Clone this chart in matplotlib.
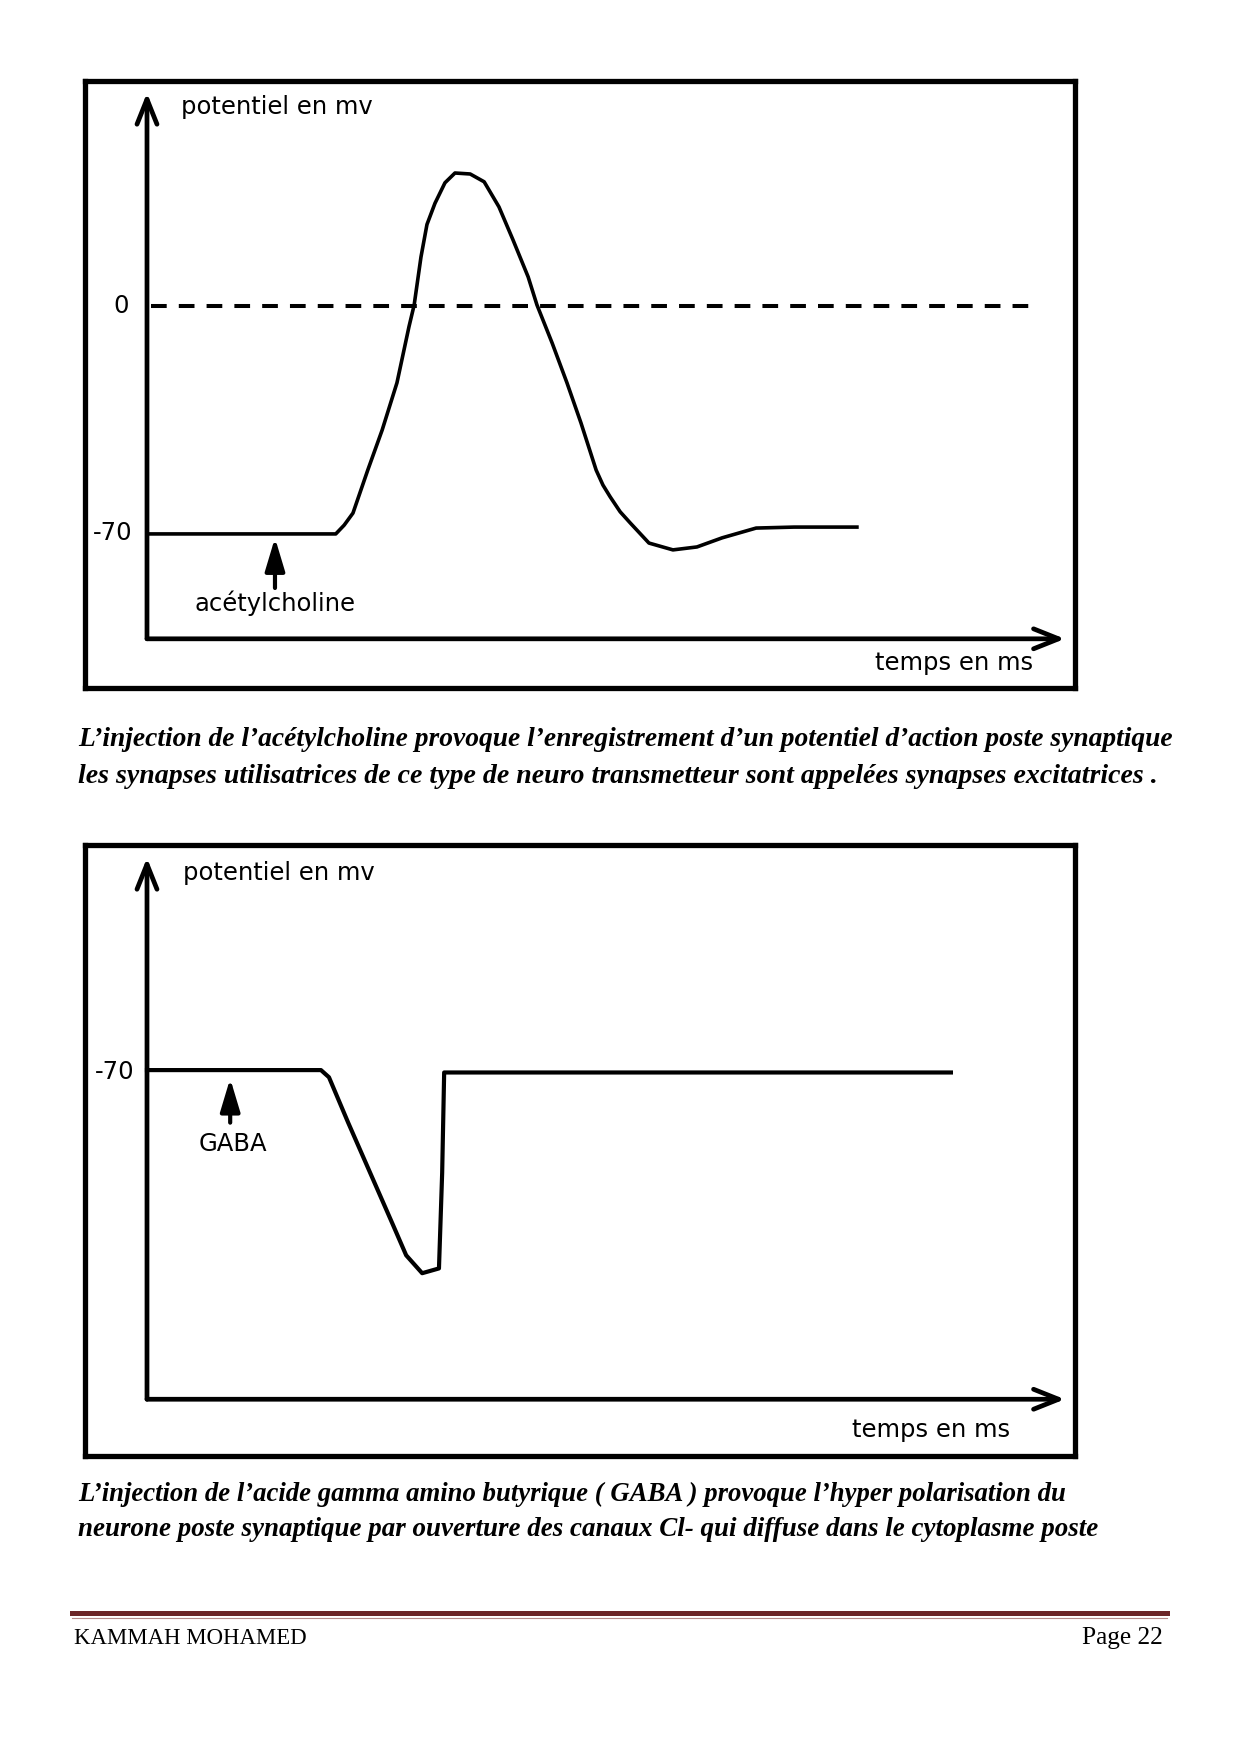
import numpy as np
import matplotlib
matplotlib.use('Agg')
from matplotlib import pyplot as plt
from matplotlib.lines import Line2D

# ==============
# courbe 1 : potentiel d'action post-synaptique (acétylcholine)
t_ach = [0.0, 4.72, 4.93, 5.15, 5.52, 5.88, 6.25, 6.55, 6.68, 6.85, 7.0, 7.2, 7.45, 7.70,
         8.08, 8.43, 8.80, 9.15, 9.53, 9.75, 10.13, 10.50, 10.85, 11.23, 11.4, 11.58,
         11.83, 12.08, 12.55, 13.15, 13.75, 14.38, 15.23, 16.18, 17.75]
v_ach = [-70.0, -70.0, -67.3, -63.6, -50.4, -38.1, -23.6, -6.4, 0.3, 15.0, 25.0, 31.5, 37.8, 40.8,
         40.5, 38.1, 30.4, 20.3, 8.9, 0.3, -11.4, -23.6, -35.9, -50.4, -55.0, -58.6,
         -63.2, -66.6, -72.8, -74.9, -74.0, -71.2, -68.2, -67.9, -67.9]

# courbe 2 : hyperpolarisation (GABA)
t_gaba = [0.0, 4.35, 4.55, 5.03, 5.58, 6.13, 6.48, 6.88, 7.30, 7.38, 7.43, 20.1]
v_gaba = [-70.0, -70.0, -70.6, -74.4, -78.6, -82.8, -85.5, -87.0, -86.6, -78.6, -70.2, -70.2]

legende1 = ["L’injection de l’acétylcholine provoque l’enregistrement d’un potentiel d’action poste synaptique",
            "les synapses utilisatrices de ce type de neuro transmetteur sont appelées synapses excitatrices ."]
legende2 = ["L’injection de l’acide gamma amino butyrique ( GABA ) provoque l’hyper polarisation du",
            "neurone poste synaptique par ouverture des canaux Cl- qui diffuse dans le cytoplasme poste"]
# ==============

W, H = 1240, 1754
fig = plt.figure(figsize=(W/100, H/100), dpi=100)
fig.patch.set_facecolor('white')
rend = fig.canvas.get_renderer()

def boite(x0, y0, x1, y1):
    ax = fig.add_axes([x0/W, 1 - y1/H, (x1 - x0)/W, (y1 - y0)/H])
    ax.set_xticks([])
    ax.set_yticks([])
    for s in ax.spines.values():
        s.set_linewidth(3.8)
        s.set_color('black')
    return ax

def axes_fleches(ax, y0, ytop, xfin):
    st = '->,head_length=0.9,head_width=0.36'
    ax.annotate('', xy=(0, ytop), xytext=(0, y0),
                arrowprops=dict(arrowstyle=st, lw=3.4, color='black', shrinkA=0, shrinkB=0,
                                mutation_scale=20))
    ax.annotate('', xy=(xfin, y0), xytext=(0, y0),
                arrowprops=dict(arrowstyle=st, lw=3.4, color='black', shrinkA=0, shrinkB=0,
                                mutation_scale=20))

def petite_fleche(ax, x, ytip, ybas):
    ax.annotate('', xy=(x, ytip), xytext=(x, ybas),
                arrowprops=dict(arrowstyle='-|>,head_length=1.0,head_width=0.3',
                                lw=3, color='black', shrinkA=0, shrinkB=0,
                                mutation_scale=20))

fs = 17.5

# ---------- graphe 1 ----------
ax1 = boite(84.5, 80.5, 1074.5, 688)
ax1.set_xlim(-1.5625, 23.19)
ax1.set_ylim(-117.3, 69.2)
axes_fleches(ax1, -102.2, 65.4, 22.95)
ax1.plot([0.1, 22.3], [0, 0], color='black', lw=2.9, ls=(0, (3.9, 3.0)))
ax1.plot(t_ach, v_ach, color='black', lw=2.6, solid_joinstyle='round')
ax1.text(0.85, 61.1, 'potentiel en mv', fontsize=fs, va='center', ha='left')
ax1.text(-0.65, 0, '0', fontsize=fs, va='center', ha='center')
ax1.text(-0.85, -69.7, '-70', fontsize=fs, va='center', ha='center')
ax1.text(22.15, -109.6, 'temps en ms', fontsize=fs, va='center', ha='right')
petite_fleche(ax1, 3.2, -71.2, -86.6)
ax1.text(3.19, -91.2, 'acétylcholine', fontsize=fs, va='center', ha='center')

# ---------- graphe 2 ----------
ax2 = boite(84.5, 845, 1074.5, 1456)
ax2.set_xlim(-1.5625, 23.19)
ax2.set_ylim(-102.3, -51.16)
axes_fleches(ax2, -97.55, -52.24, 22.95)
ax2.plot(t_gaba, v_gaba, color='black', lw=3.0, solid_joinstyle='round')
ax2.text(0.9, -53.5, 'potentiel en mv', fontsize=fs, va='center', ha='left')
ax2.text(-0.8, -70.2, '-70', fontsize=fs, va='center', ha='center')
ax2.text(21.58, -100.15, 'temps en ms', fontsize=fs, va='center', ha='right')
petite_fleche(ax2, 2.08, -70.7, -74.4)
ax2.text(2.14, -76.2, 'GABA', fontsize=fs, va='center', ha='center')

# ---------- légendes ----------
def texte_ajuste(txt, x, y, largeur, **kw):
    t = fig.text(x/W, 1 - y/H, txt, va='center', ha='left', fontsize=20, **kw)
    bb = t.get_window_extent(renderer=rend)
    t.set_fontsize(20*largeur/bb.width)
    return t

style = dict(family='Liberation Serif', style='italic', weight='bold')
texte_ajuste(legende1[0], 78, 740, 1095, **style)
texte_ajuste(legende1[1], 78, 776, 1080, **style)
texte_ajuste(legende2[0], 78, 1494, 987, **style)
texte_ajuste(legende2[1], 78, 1530, 1019, **style)

# ---------- pied de page ----------
fig.add_artist(Line2D([72/W, 1167/W], [1 - 1612.5/H]*2, lw=3.6, color='#6b2527'))
fig.add_artist(Line2D([72/W, 1167/W], [1 - 1618/H]*2, lw=0.8, color='#b58a8a'))
texte_ajuste('KAMMAH MOHAMED', 74, 1638, 231, family='Liberation Serif')
p = fig.text(1163/W, 1 - 1638/H, 'Page 22', va='center', ha='right', family='Liberation Serif', fontsize=20)
p.set_fontsize(20*81/p.get_window_extent(renderer=rend).width)

fig.savefig('out.png', dpi=100, facecolor='white')
